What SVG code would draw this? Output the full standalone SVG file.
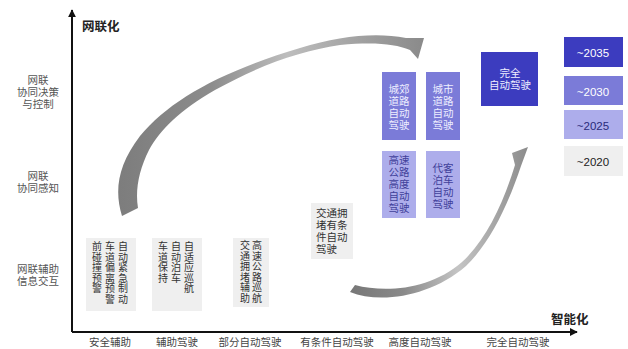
<svg xmlns="http://www.w3.org/2000/svg" width="628" height="349" viewBox="0 0 628 349">
<style>
text{font-family:"Noto Sans CJK SC","Noto Sans",sans-serif}
.ax{font-size:10.5px;fill:#444;text-anchor:middle}
.yl{font-size:10.5px;fill:#555;text-anchor:middle}
.axt{font-size:12.5px;font-weight:bold;fill:#222}
.gb{fill:#efefef}
.gt{font-size:10px;fill:#333;text-anchor:middle}
.ht{font-size:10.5px;fill:#333}
.mb{fill:#7b7bd8}
.lb{fill:#adadeb}
.db{fill:#3c3cbf}
.wt{font-size:10.5px;fill:#eeeeff;text-anchor:middle}
.pt{font-size:10.5px;fill:#40409a;text-anchor:middle}
.yr{font-size:11.5px;text-anchor:middle;font-family:"Liberation Sans",sans-serif}
</style>
<defs>
<linearGradient id="g1" gradientUnits="userSpaceOnUse" x1="120" y1="0" x2="424" y2="0">
<stop offset="0" stop-color="#7d7d7d"/><stop offset="0.3" stop-color="#8c8c8c"/><stop offset="0.55" stop-color="#bdbdbd"/><stop offset="0.8" stop-color="#a0a0a0"/><stop offset="1" stop-color="#8a8a8a"/>
</linearGradient>
<linearGradient id="g2" gradientUnits="userSpaceOnUse" x1="350" y1="0" x2="530" y2="0">
<stop offset="0" stop-color="#777"/><stop offset="0.3" stop-color="#8a8a8a"/><stop offset="0.6" stop-color="#c4c4c4"/><stop offset="1" stop-color="#8a8a8a"/>
</linearGradient>
<marker id="ah" viewBox="0 0 10 10" refX="9" refY="5" markerWidth="4" markerHeight="4" orient="auto"><path d="M0,0L10,5L0,10Z" fill="#111"/></marker>
</defs>

<g id="axes">
<line x1="72" y1="332" x2="72" y2="10" stroke="#111" stroke-width="2" marker-end="url(#ah)"/>
<line x1="72" y1="332" x2="577" y2="332" stroke="#111" stroke-width="2" marker-end="url(#ah)"/>
<text class="axt" x="82" y="31">网联化</text>
<text class="axt" x="551" y="324">智能化</text>
</g>

<g id="y-labels">
<text class="yl" x="38" y="84">网联</text>
<text class="yl" x="38" y="96">协同决策</text>
<text class="yl" x="38" y="108">与控制</text>
<text class="yl" x="38" y="180">网联</text>
<text class="yl" x="38" y="192">协同感知</text>
<text class="yl" x="38" y="273">网联辅助</text>
<text class="yl" x="38" y="285">信息交互</text>
</g>

<g id="x-labels">
<text class="ax" x="110" y="346">安全辅助</text>
<text class="ax" x="177" y="346">辅助驾驶</text>
<text class="ax" x="250" y="346">部分自动驾驶</text>
<text class="ax" x="337" y="346">有条件自动驾驶</text>
<text class="ax" x="420" y="346">高度自动驾驶</text>
<text class="ax" x="518" y="346">完全自动驾驶</text>
</g>

<g id="connectors">
<path d="M122,216 C114,190 118,165 140,136 C170,100 220,72 300,48 C340,36 375,32 406,38 L424,38 L418,59 L410,50 C395,44 375,42 340,45 C300,51 260,65 215,90 C180,110 160,130 149,150 C139,170 135,190 138,208 Z" fill="url(#g1)"/>
<path d="M350,292 C380,304 430,297 466,266 C490,243 508,205 521,166 L528,147 L512,153 L515,165 C503,204 486,240 462,262 C430,290 385,293 355,285 Z" fill="url(#g2)"/>
</g>

<g id="n-safety">
<rect class="gb" x="86" y="238" width="50" height="73"/>
<text class="gt" x="97" y="250"><tspan x="97">前</tspan><tspan x="97" dy="10.5">碰</tspan><tspan x="97" dy="10.5">撞</tspan><tspan x="97" dy="10.5">预</tspan><tspan x="97" dy="10.5">警</tspan></text>
<text class="gt" x="110" y="250"><tspan x="110">车</tspan><tspan x="110" dy="10.5">道</tspan><tspan x="110" dy="10.5">偏</tspan><tspan x="110" dy="10.5">离</tspan><tspan x="110" dy="10.5">预</tspan><tspan x="110" dy="10.5">警</tspan></text>
<text class="gt" x="123" y="250"><tspan x="123">自</tspan><tspan x="123" dy="10.5">动</tspan><tspan x="123" dy="10.5">紧</tspan><tspan x="123" dy="10.5">急</tspan><tspan x="123" dy="10.5">制</tspan><tspan x="123" dy="10.5">动</tspan></text>
</g>

<g id="n-assist">
<rect class="gb" x="152" y="238" width="50" height="73"/>
<text class="gt" x="163" y="250"><tspan x="163">车</tspan><tspan x="163" dy="10.5">道</tspan><tspan x="163" dy="10.5">保</tspan><tspan x="163" dy="10.5">持</tspan></text>
<text class="gt" x="176" y="250"><tspan x="176">自</tspan><tspan x="176" dy="10.5">动</tspan><tspan x="176" dy="10.5">泊</tspan><tspan x="176" dy="10.5">车</tspan></text>
<text class="gt" x="189" y="250"><tspan x="189">自</tspan><tspan x="189" dy="10.5">适</tspan><tspan x="189" dy="10.5">应</tspan><tspan x="189" dy="10.5">巡</tspan><tspan x="189" dy="10.5">航</tspan></text>
</g>

<g id="n-partial">
<rect class="gb" x="233" y="238" width="36" height="69"/>
<text class="gt" x="245" y="249"><tspan x="245">交</tspan><tspan x="245" dy="10.5">通</tspan><tspan x="245" dy="10.5">拥</tspan><tspan x="245" dy="10.5">堵</tspan><tspan x="245" dy="10.5">辅</tspan><tspan x="245" dy="10.5">助</tspan></text>
<text class="gt" x="257" y="249"><tspan x="257">高</tspan><tspan x="257" dy="10.5">速</tspan><tspan x="257" dy="10.5">公</tspan><tspan x="257" dy="10.5">路</tspan><tspan x="257" dy="10.5">巡</tspan><tspan x="257" dy="10.5">航</tspan></text>
</g>

<g id="n-conditional">
<rect class="gb" x="311" y="203" width="42" height="56"/>
<text class="ht" x="316" y="217"><tspan x="316">交通拥</tspan><tspan x="316" dy="12">堵有条</tspan><tspan x="316" dy="12">件自动</tspan><tspan x="316" dy="12">驾驶</tspan></text>
</g>

<g id="n-suburban">
<rect class="mb" x="382" y="72" width="34" height="68"/>
<text class="wt" x="399" y="93"><tspan x="399">城郊</tspan><tspan x="399" dy="12">道路</tspan><tspan x="399" dy="12">自动</tspan><tspan x="399" dy="12">驾驶</tspan></text>
</g>

<g id="n-urban">
<rect class="mb" x="426" y="72" width="34" height="68"/>
<text class="wt" x="443" y="93"><tspan x="443">城市</tspan><tspan x="443" dy="12">道路</tspan><tspan x="443" dy="12">自动</tspan><tspan x="443" dy="12">驾驶</tspan></text>
</g>

<g id="n-highway">
<rect class="lb" x="382" y="151" width="34" height="67"/>
<text class="pt" x="399" y="164"><tspan x="399">高速</tspan><tspan x="399" dy="12">公路</tspan><tspan x="399" dy="12">高度</tspan><tspan x="399" dy="12">自动</tspan><tspan x="399" dy="12">驾驶</tspan></text>
</g>

<g id="n-valet">
<rect class="lb" x="426" y="151" width="34" height="67"/>
<text class="pt" x="443" y="172"><tspan x="443">代客</tspan><tspan x="443" dy="12">泊车</tspan><tspan x="443" dy="12">自动</tspan><tspan x="443" dy="12">驾驶</tspan></text>
</g>

<g id="n-full">
<rect class="db" x="481" y="52" width="57" height="54"/>
<text class="wt" x="510" y="77">完全</text>
<text class="wt" x="510" y="89">自动驾驶</text>
</g>

<g id="legend">
<g id="y2035"><rect class="db" x="564" y="37" width="59" height="30"/><text class="yr" x="593" y="57" fill="#fff">~2035</text></g>
<g id="y2030"><rect class="mb" x="564" y="76" width="59" height="29"/><text class="yr" x="593" y="96" fill="#fff">~2030</text></g>
<g id="y2025"><rect class="lb" x="564" y="110" width="59" height="29"/><text class="yr" x="593" y="130" fill="#2a2a7a">~2025</text></g>
<g id="y2020"><rect class="gb" x="564" y="146" width="59" height="30"/><text class="yr" x="593" y="166" fill="#222">~2020</text></g>
</g>
</svg>
